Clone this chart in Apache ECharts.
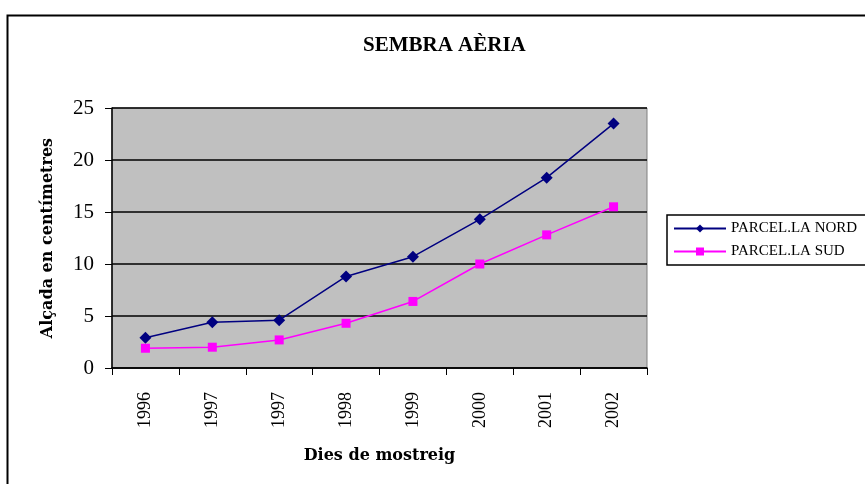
<!DOCTYPE html>
<html>
<head>
<meta charset="utf-8">
<script src="https://cdn.jsdelivr.net/npm/echarts@6/dist/echarts.min.js"></script>
<style>
  html, body { margin: 0; padding: 0; background: #fff; }
  #main { width: 865px; height: 484px; }
</style>
</head>
<body>
<div id="main"></div>
<script>
// dades llegides del gràfic
var anys = ['1996', '1997', '1997', '1998', '1999', '2000', '2001', '2002'];
var parcelNord = [2.9, 4.4, 4.6, 8.8, 10.7, 14.3, 18.3, 23.5];
var parcelSud = [1.9, 2.0, 2.7, 4.3, 6.4, 10.0, 12.8, 15.5];

var serif = '"Liberation Serif", "Times New Roman", serif';
var serifAmple = '"DejaVu Serif", serif';

var chart = echarts.init(document.getElementById('main'));
chart.setOption({
    backgroundColor: '#fff',
    animation: false,
    textStyle: { fontFamily: serif, color: '#000' },
    title: {
        text: 'SEMBRA AÈRIA',
        left: 358,
        top: 30,
        textStyle: { fontFamily: serif, fontSize: 21, fontWeight: 'bold', color: '#000' }
    },
    legend: {
        left: 667,
        top: 215,
        orient: 'vertical',
        itemWidth: 52,
        itemHeight: 10,
        itemGap: 8,
        padding: [6, 20, 6, 6],
        borderColor: '#000',
        borderWidth: 1.5,
        textStyle: { fontFamily: serif, fontSize: 15, color: '#000' },
        data: ['PARCEL.LA NORD', 'PARCEL.LA SUD']
    },
    grid: {
        left: 112,
        right: 218,
        top: 108,
        bottom: 116,
        show: true,
        backgroundColor: '#c0c0c0',
        borderColor: '#808080',
        borderWidth: 1
    },
    xAxis: {
        type: 'category',
        data: anys,
        boundaryGap: true,
        name: 'Dies de mostreig',
        nameLocation: 'middle',
        nameGap: 80,
        nameTextStyle: { fontFamily: serifAmple, fontSize: 16, fontWeight: 'bold', color: '#000' },
        axisLine: { lineStyle: { color: '#000', width: 1.5 } },
        axisTick: { show: true, alignWithLabel: false, length: 7, lineStyle: { color: '#000' } },
        axisLabel: { rotate: 90, fontSize: 18, margin: 24, color: '#000', fontFamily: serif },
        splitLine: { show: false }
    },
    yAxis: {
        type: 'value',
        min: 0,
        max: 25,
        interval: 5,
        name: 'Alçada en centímetres',
        nameLocation: 'middle',
        nameGap: 56,
        nameRotate: 90,
        nameTextStyle: { fontFamily: serifAmple, fontSize: 16, fontWeight: 'bold', color: '#000' },
        axisLine: { show: true, lineStyle: { color: '#000', width: 1.5 } },
        axisTick: { show: true, length: 7, lineStyle: { color: '#000' } },
        axisLabel: { fontSize: 21, margin: 18, color: '#000', fontFamily: serif },
        splitLine: { show: true, lineStyle: { color: '#000', width: 1.5 } }
    },
    series: [
        {
            name: 'PARCEL.LA NORD',
            type: 'line',
            data: parcelNord,
            symbol: 'diamond',
            symbolSize: 12,
            itemStyle: { color: '#000080' },
            lineStyle: { color: '#000080', width: 1.5 }
        },
        {
            name: 'PARCEL.LA SUD',
            type: 'line',
            data: parcelSud,
            symbol: 'rect',
            symbolSize: 9,
            itemStyle: { color: '#ff00ff' },
            lineStyle: { color: '#ff00ff', width: 1.5 }
        }
    ],
    graphic: [{
        type: 'rect',
        left: 5,
        top: 13,
        shape: { width: 880, height: 490 },
        style: { fill: null, stroke: '#000', lineWidth: 2 },
        silent: true
    }]
});
</script>
</body>
</html>
